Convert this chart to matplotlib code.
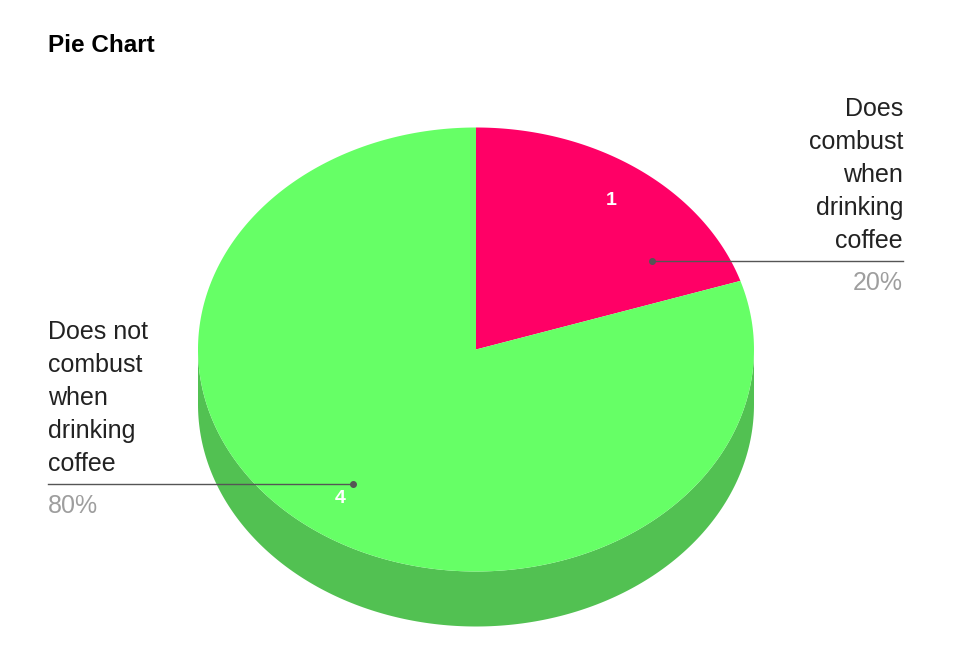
import numpy as np
import matplotlib
matplotlib.use("Agg")
import matplotlib.pyplot as plt
from matplotlib.patches import Polygon

# ---- data ----
categories = ["Does combust when drinking coffee", "Does not combust when drinking coffee"]
values = [1, 4]
label_lines = [["Does", "combust", "when", "drinking", "coffee"],
               ["Does not", "combust", "when", "drinking", "coffee"]]
top_colors = ["#FF0066", "#66FF66"]
side_colors = ["#B3004A", "#52C152"]

# ---- layout (pixel space) ----
W, H = 964, 659
cx, cy, rx, ry, depth = 476, 349.5, 278, 222, 55
FONT = "Liberation Sans"

fig = plt.figure(figsize=(W / 100, H / 100), dpi=100)
ax = fig.add_axes([0, 0, 1, 1])
ax.set_xlim(0, W)
ax.set_ylim(H, 0)
ax.axis("off")

def pt(t, r=1.0, dy=0.0):
    return cx + rx * r * np.sin(t), cy - ry * r * np.cos(t) + dy

total = float(sum(values))
bounds = np.concatenate([[0], np.cumsum(values)]) / total * 2 * np.pi

# side walls (front half: t in [pi/2, 3pi/2])
for i in range(len(values)):
    a0, a1 = max(bounds[i], np.pi / 2), min(bounds[i + 1], 3 * np.pi / 2)
    if a1 > a0:
        t = np.linspace(a0, a1, 200)
        xs, ys = pt(t)
        xb, yb = pt(t[::-1], dy=depth)
        poly = np.column_stack([np.concatenate([xs, xb]), np.concatenate([ys, yb])])
        ax.add_patch(Polygon(poly, closed=True, facecolor=side_colors[i], edgecolor="none"))

# top faces
for i in range(len(values)):
    t = np.linspace(bounds[i], bounds[i + 1], 300)
    xs, ys = pt(t)
    poly = np.column_stack([np.concatenate([[cx], xs]), np.concatenate([[cy], ys])])
    ax.add_patch(Polygon(poly, closed=True, facecolor=top_colors[i], edgecolor="none"))

# value labels inside slices
for i, v in enumerate(values):
    mid = (bounds[i] + bounds[i + 1]) / 2
    x, y = pt(mid, 0.83)
    ax.text(x, y, str(v), color="white", fontsize=14, fontweight="bold",
            ha="center", va="center", family=FONT)

# leader lines and external labels
anchor_angles = [np.deg2rad(57.8), None]
line_ends = [903, 48]
for i, v in enumerate(values):
    mid = (bounds[i] + bounds[i + 1]) / 2
    ang = anchor_angles[i] if anchor_angles[i] is not None else mid
    x, y = pt(ang, 0.75)
    right = np.sin(mid) > 0
    xe = line_ends[i]
    ax.plot([x, xe], [y, y], color="#555555", lw=1)
    ax.plot([x], [y], "o", color="#555555", ms=4)
    ha = "right" if right else "left"
    lines = label_lines[i]
    n = len(lines)
    for k, s in enumerate(lines):
        ax.text(xe, y - 20 - (n - 1 - k) * 33, s, fontsize=18, color="#222222",
                ha=ha, va="center", family=FONT)
    pct = f"{v / total * 100:.0f}%"
    ax.text(xe, y + 22, pct, fontsize=18, color="#9E9E9E", ha=ha, va="center", family=FONT)

ax.text(48, 45, "Pie Chart", fontsize=17.5, fontweight="bold", color="#000000",
        ha="left", va="center", family=FONT)

fig.savefig("out.png", dpi=100)
